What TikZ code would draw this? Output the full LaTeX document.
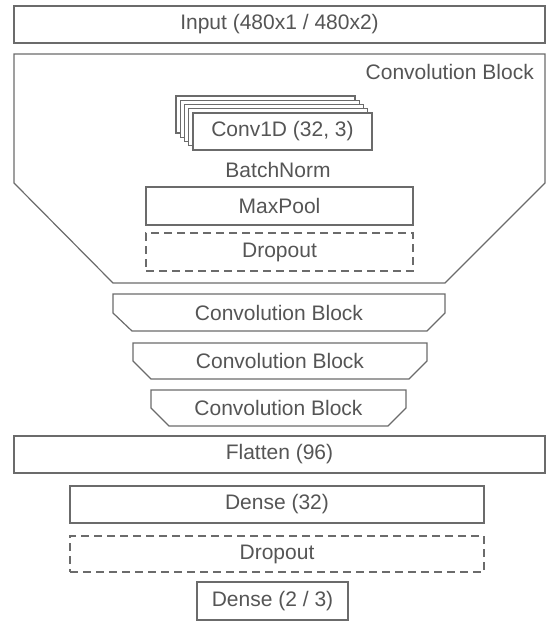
\documentclass[tikz,border=0pt]{standalone}
\usepackage{fontspec}
\setmainfont{Liberation Sans}
\definecolor{ln}{HTML}{6B6B6B}
\definecolor{tx}{HTML}{555555}
\begin{document}
\begin{tikzpicture}[x=1pt,y=-1pt,
  lbl/.style={font=\fontsize{21}{25}\selectfont, text=tx, inner sep=0pt},
  box/.style={lbl, draw=ln, line width=1.2pt, fill=white},
  dbox/.style={lbl, draw=ln, line width=1.1pt, dash pattern=on 8pt off 5pt},
  outline/.style={draw=ln, line width=1.2pt, line join=miter},
  layer/.style={draw=ln, line width=1.1pt, fill=white}
]
\useasboundingbox (0,0) rectangle (547,621);

\node[box, minimum width=531pt, minimum height=37pt] (input) at (279.5,24.5) {Input (480x1 / 480x2)};

% big convolution block
\draw[outline] (14,54) -- (545,54) -- (545,183) -- (445,283) -- (113,283) -- (14,183) -- cycle;
\node[lbl, anchor=east] (cbtitle) at (534,72) {Convolution Block};

% stacked Conv1D layers
\foreach \i in {0,...,3}{
  \draw[layer] ({176+4.25*\i},{96+4.25*\i}) rectangle ++(179,37);
}
\node[box, minimum width=179pt, minimum height=37pt] (conv) at (282.5,131.5) {Conv1D (32, 3)};
\node[lbl] (bn) at (278,170) {BatchNorm};
\node[box, minimum width=267pt, minimum height=38pt] (maxpool) at (279.5,206) {MaxPool};
\node[dbox, minimum width=267pt, minimum height=38pt] (drop1) at (279.5,252) {Dropout};

% smaller convolution blocks
\draw[outline] (113,294) -- (445,294) -- (445,313) -- (427,331) -- (132,331) -- (113,313) -- cycle;
\node[lbl] (cb1) at (279,313) {Convolution Block};
\draw[outline] (133,343) -- (427,343) -- (427,361) -- (409,379) -- (151,379) -- (133,361) -- cycle;
\node[lbl] (cb2) at (280,361) {Convolution Block};
\draw[outline] (151,390) -- (406,390) -- (406,408) -- (388,426) -- (169,426) -- (151,408) -- cycle;
\node[lbl] (cb3) at (278.5,408) {Convolution Block};

\node[box, minimum width=531pt, minimum height=37pt] (flatten) at (279.5,454.5) {Flatten (96)};
\node[box, minimum width=414pt, minimum height=37pt] (dense1) at (277,504.5) {Dense (32)};
\node[dbox, minimum width=414pt, minimum height=36pt] (drop2) at (277,554) {Dropout};
\node[box, minimum width=151pt, minimum height=38pt] (dense2) at (272.5,601) {Dense (2 / 3)};
\end{tikzpicture}
\end{document}
